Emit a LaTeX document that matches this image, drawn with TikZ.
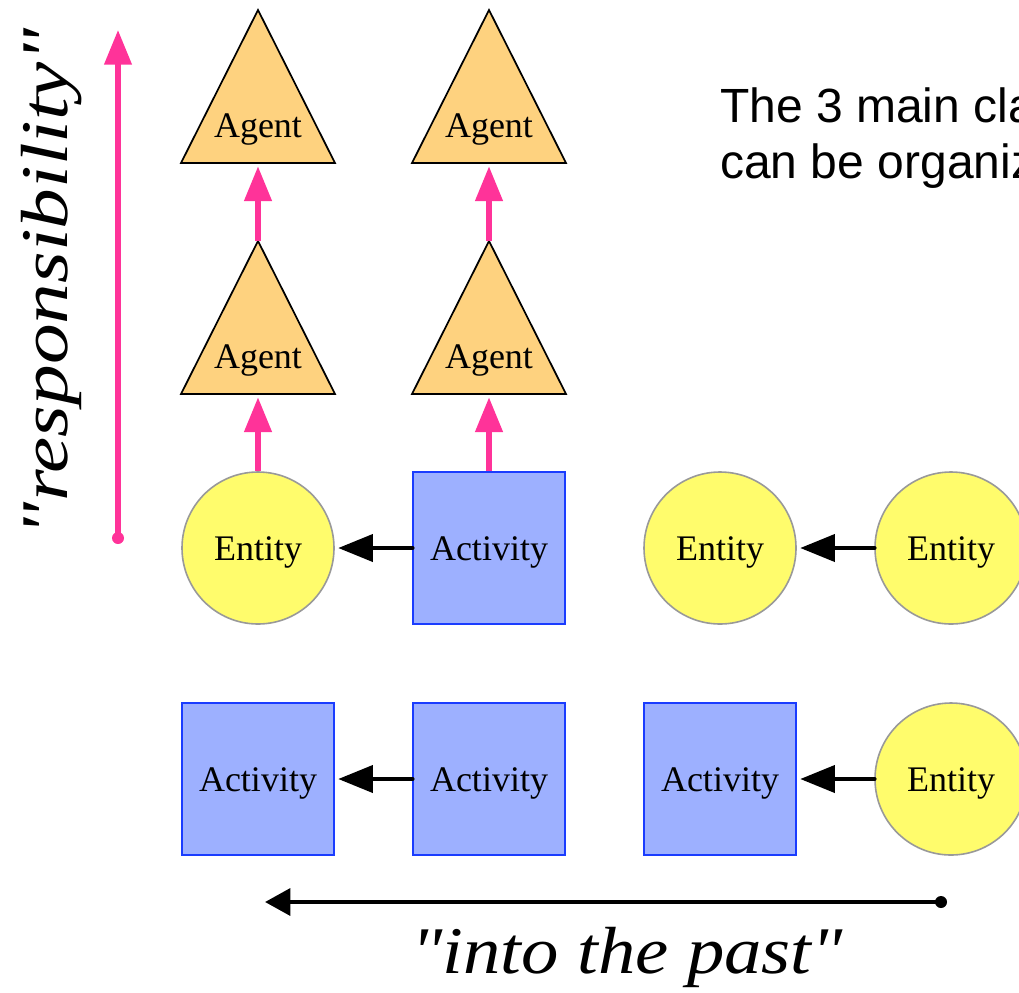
\documentclass[tikz,border=0pt]{standalone}
\usepackage{fontspec}
\usepackage{graphicx}
\setmainfont{Liberation Serif}
\newfontfamily\serifq{Liberation Serif}[ItalicFont=Liberation Serif Italic]
\newfontfamily\sansf{Liberation Sans}
\usetikzlibrary{arrows.meta}
\definecolor{agentfill}{HTML}{FED27F}
\definecolor{entfill}{HTML}{FFFC6C}
\definecolor{entdraw}{HTML}{999999}
\definecolor{actfill}{HTML}{9DB0FF}
\definecolor{actdraw}{HTML}{1A3CFF}
\definecolor{pinkc}{HTML}{FF3399}
\tikzset{
  entity/.style={circle, draw=entdraw, fill=entfill, line width=1.2pt, minimum size=114pt, inner sep=0pt},
  activity/.style={rectangle, draw=actdraw, fill=actfill, line width=1.2pt, minimum size=114pt, inner sep=0pt},
  lbl/.style={anchor=base, inner sep=0pt, font=\fontsize{27}{30}\selectfont},
  agentshape/.style={draw=black, fill=agentfill, line width=1.3pt, line join=miter},
  pinkarrow/.style={draw=pinkc, line width=4pt, -{Triangle[length=26pt,width=20pt]}},
  blackarrow/.style={draw=black, line width=3.6pt, line cap=round, -{Triangle[length=26pt,width=20pt]}},
  axisarrow/.style={draw=black, line width=3.4pt, -{Triangle[length=19pt,width=20pt]}},
}
\newcommand{\agenttri}[3]{%
  \draw[agentshape] (#2,#3) -- (#2+77,#3+153) -- (#2-77,#3+153) -- cycle;
  \node[lbl] (#1) at (#2,#3+127) {Agent};
  \coordinate (#1-apex) at (#2,#3);
  \coordinate (#1-base) at (#2,#3+153);
}
\begin{document}
\begin{tikzpicture}[x=0.75pt,y=-0.75pt]
\useasboundingbox (0,0) rectangle (1019,992);
\clip (0,0) rectangle (1019,992);

% agents
\agenttri{ag1}{258}{10}
\agenttri{ag2}{258}{241}
\agenttri{ag3}{489}{10}
\agenttri{ag4}{489}{241}

% row 1
\node[entity] (e1) at (258,548) {};
\node[activity] (a1) at (489,548) {};
\node[entity] (e2) at (720,548) {};
\node[entity] (e3) at (951,548) {};
\node[lbl] (e1t) at (258,560) {Entity};
\node[lbl] (a1t) at (489,560) {Activity};
\node[lbl] (e2t) at (720,560) {Entity};
\node[lbl] (e3t) at (951,560) {Entity};

% row 2
\node[activity] (a2) at (258,779) {};
\node[activity] (a3) at (489,779) {};
\node[activity] (a4) at (720,779) {};
\node[entity] (e4) at (951,779) {};
\node[lbl] (a2t) at (258,791) {Activity};
\node[lbl] (a3t) at (489,791) {Activity};
\node[lbl] (a4t) at (720,791) {Activity};
\node[lbl] (e4t) at (951,791) {Entity};

% pink arrows
\draw[pinkarrow, shorten >=2.5pt] (ag2-apex) -- (ag1-base);
\draw[pinkarrow, shorten >=2.5pt] (ag4-apex) -- (ag3-base);
\draw[pinkarrow, shorten >=2.5pt] (e1.north) -- (ag2-base);
\draw[pinkarrow, shorten >=2.5pt] (a1.north) -- (ag4-base);

% black arrows
\draw[blackarrow, shorten >=2.5pt] (a1.west) -- (e1.east);
\draw[blackarrow, shorten >=2.5pt] (e3.west) -- (e2.east);
\draw[blackarrow, shorten >=2.5pt] (a3.west) -- (a2.east);
\draw[blackarrow, shorten >=2.5pt] (e4.west) -- (a4.east);

% responsibility axis
\coordinate (r0) at (118,538);
\coordinate (r1) at (118,30);
\draw[pinkarrow] (r0) -- (r1);
\fill[pinkc] (r0) circle[radius=4.5pt];
\node[rotate=90, inner sep=0pt, font=\serifq\itshape\fontsize{50}{60}\selectfont] (resp) at (52,282) {\scalebox{1.22}[1]{"responsibility"}};

% past axis
\coordinate (p0) at (941,902);
\coordinate (p1) at (265,902);
\draw[axisarrow] (p0) -- (p1);
\fill[black] (p0) circle[radius=4.5pt];
\node[inner sep=0pt, font=\serifq\itshape\fontsize{50}{60}\selectfont] (past) at (627,957) {\scalebox{1.12}[1]{"into the past"}};

% caption text
\node[anchor=base west, inner sep=0pt, font=\sansf\fontsize{36}{42}\selectfont] (cap1) at (720,122) {The 3 main cla};
\node[anchor=base west, inner sep=0pt, font=\sansf\fontsize{36}{42}\selectfont] (cap2) at (720,178) {can be organiz};
\end{tikzpicture}
\end{document}
